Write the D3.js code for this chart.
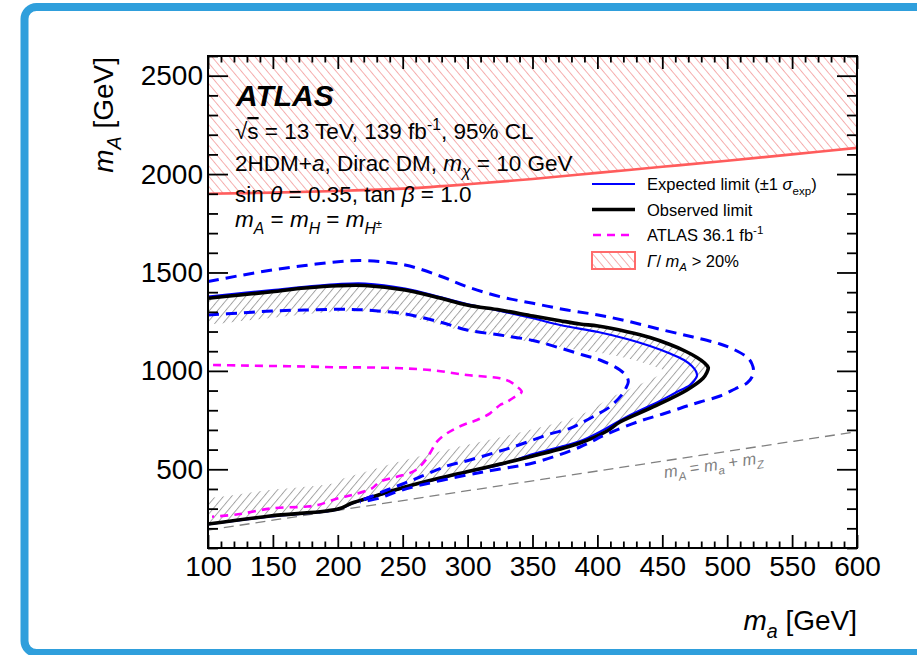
<!DOCTYPE html>
<html>
<head>
<meta charset="utf-8">
<script src="https://cdn.jsdelivr.net/npm/d3@7"></script>
<style>
  html, body { margin: 0; padding: 0; background: #ffffff; }
  svg { display: block; font-family: "Liberation Sans", Arial, Helvetica, sans-serif; }
</style>
</head>
<body>
<svg id="chart" width="917" height="655"></svg>
<script>
// ---- axis tick values ----
const xMajorTicks = [100, 150, 200, 250, 300, 350, 400, 450, 500, 550, 600];
const yMajorTicks = [500, 1000, 1500, 2000, 2500];

// ---- Γ/m_A = 20% boundary: [m_a, m_A] ----
const widthBoundary = [
  [100, 1900], [150, 1906], [200, 1914], [250, 1926], [300, 1948], [350, 1975],
  [400, 2006], [450, 2037], [500, 2068], [550, 2100], [600, 2133]
];

// ---- observed limit contour: [m_a, m_A] ----
const observed = [
  [100, 1369], [124.7, 1385.6], [149.3, 1402.3], [174.7, 1421], [200.2, 1432.8],
  [221, 1433.8], [251.8, 1411], [278.7, 1370], [299.5, 1334.8], [325, 1309.3],
  [350.4, 1278.9], [371.2, 1254.9], [386.6, 1238.2], [400.5, 1228], [422.8, 1199],
  [440.5, 1169.6], [455.9, 1134], [467.5, 1101], [476.7, 1068], [482.1, 1042.6],
  [485.4, 1017], [484.1, 989], [481.4, 962], [469, 903], [442.8, 816.5],
  [417.4, 740], [407.4, 694.5], [386.6, 633.5], [350.4, 567.5], [325, 526.8],
  [299.5, 487.7], [278.7, 455.7], [251.8, 410], [226.3, 359], [211, 328.7],
  [200.2, 298], [147.8, 262.6], [100, 222]
];

// ---- expected limit contour ----
const expected = [
  [100, 1378], [149.3, 1411], [200.2, 1441], [221, 1444], [251.8, 1418.6],
  [278.7, 1375.4], [299.5, 1339.8], [325, 1304.3], [350.4, 1267.2], [371.2, 1233.1],
  [400.5, 1197.6], [422.8, 1162], [440.5, 1126.5], [455.9, 1088.3], [466.7, 1055.3],
  [472.8, 1024.8], [476, 996.9], [476.7, 974], [474.4, 948.6], [471.3, 928.2],
  [459.8, 887.6], [448.2, 847], [422.8, 767.2], [407.4, 709.8], [388.9, 648.8],
  [371.2, 613.2], [350.4, 577.6], [325, 521.7], [299.5, 486], [278.7, 453],
  [251.8, 408], [226.3, 357], [211, 326], [200.2, 296], [147.8, 260], [100, 220]
];

// ---- expected +1 sigma contour ----
const expectedPlus = [
  [100, 1454], [124.7, 1484.6], [149.3, 1512.6], [174.7, 1535.5], [200.2, 1554.8],
  [221, 1559.9], [251.8, 1538], [278.7, 1482], [299.5, 1427.7], [325, 1377],
  [350.4, 1343.4], [376.6, 1309.3], [400.5, 1284], [422.8, 1253.5], [450.5, 1207.7],
  [473.7, 1172], [494.5, 1136.6], [506, 1106], [516, 1065.5], [519.1, 1035],
  [520.3, 1004.5], [519.1, 968.9], [515.3, 938.4], [506, 908], [494.5, 872.4],
  [479, 841.9], [469, 821.5], [450.5, 780.9], [432.8, 745.3], [407.4, 679.3],
  [386.6, 613.2], [350.4, 532], [325, 501.4], [299.5, 470.9], [257.9, 410],
  [242.5, 379.5], [232.5, 354], [217.1, 333.7]
];

// ---- expected -1 sigma contour ----
const expectedMinus = [
  [100, 1284], [124.7, 1294.1], [149.3, 1304.3], [174.7, 1309.3], [200.2, 1312.9],
  [221, 1309.3], [251.8, 1289], [278.7, 1248.4], [299.5, 1207.7], [325, 1182.3],
  [350.4, 1154.4], [371.2, 1116.3], [388.9, 1080.7], [402, 1055.3], [417.4, 1004.5],
  [422.8, 969], [423.8, 943.5], [422, 913], [419.7, 886], [409.7, 818],
  [396.6, 767.2], [388.9, 740.2], [378.9, 708.2], [363.5, 679.3], [350.4, 648.8],
  [335, 613.2], [325, 592.9], [301.8, 547.2], [284.1, 516.7], [263.3, 460.8],
  [247.9, 420.1], [237.9, 394.7], [224.8, 359.1], [217.1, 338.8]
];

// ---- ATLAS 36.1 fb-1 observed contour ----
const atlas36 = [
  [103.9, 1029.9], [124.7, 1027.3], [149.3, 1024.8], [174.7, 1022.3], [199.4, 1018.2],
  [224.8, 1017.2], [249.5, 1013.1], [274.9, 1001.9], [299.5, 979], [317.3, 968.9],
  [325, 962.3], [332.7, 945], [337.3, 923.2], [341.7, 894.2], [335, 862.2],
  [328.8, 836.8], [325, 826.6], [317.3, 784.5], [307.2, 750.4], [296.5, 725],
  [284.1, 682.8], [276.4, 640.1], [271, 581.2], [265.6, 530.4], [257.9, 487.7],
  [245.6, 462.3], [232.5, 436.9], [226.3, 403.4], [210.9, 369.3], [200.2, 352.5],
  [184.7, 318.5], [174.7, 309.9], [149.3, 301.7], [123.1, 271.2], [103.1, 259]
];

// ---- kinematic line m_A = m_a + m_Z ----
const mZ = 91.2;
const kinematicLine = [[100, 100 + mZ], [600, 600 + mZ]];

// ---- layout ----
const svg = d3.select("#chart");
const plotLeft = 208, plotRight = 857, plotTop = 56, plotBottom = 548;
const x = d3.scaleLinear().domain([100, 600]).range([plotLeft, plotRight]);
const y = d3.scaleLinear().domain([100, 2600]).range([plotBottom, plotTop]);

const defs = svg.append("defs");
defs.append("clipPath").attr("id", "plotClip")
  .append("rect").attr("x", plotLeft).attr("y", plotTop)
  .attr("width", plotRight - plotLeft).attr("height", plotBottom - plotTop);

// hatch patterns
const gray = defs.append("pattern").attr("id", "grayHatch")
  .attr("patternUnits", "userSpaceOnUse").attr("width", 6.2).attr("height", 10)
  .attr("patternTransform", "rotate(40)");
gray.append("line").attr("x1", 0.5).attr("y1", 0).attr("x2", 0.5).attr("y2", 10)
  .attr("stroke", "#8a8a8a").attr("stroke-width", 0.8);

const red = defs.append("pattern").attr("id", "redHatch")
  .attr("patternUnits", "userSpaceOnUse").attr("width", 6.6).attr("height", 10)
  .attr("patternTransform", "rotate(-40)");
red.append("line").attr("x1", 0.5).attr("y1", 0).attr("x2", 0.5).attr("y2", 10)
  .attr("stroke", "#f4a3a3").attr("stroke-width", 0.9);

// outer frame
svg.append("rect").attr("x", 24.5).attr("y", 7).attr("width", 1000).attr("height", 646)
  .attr("rx", 12).attr("fill", "none").attr("stroke", "#2f9fdc").attr("stroke-width", 8);

const line = d3.line().x(d => x(d[0])).y(d => y(d[1])).curve(d3.curveCatmullRom.alpha(0.5));
const straight = d3.line().x(d => x(d[0])).y(d => y(d[1]));

const plot = svg.append("g").attr("clip-path", "url(#plotClip)");

// Γ/m_A > 20% region
plot.append("path")
  .attr("d", line(widthBoundary) + `L${x(600)},${y(2600)}L${x(100)},${y(2600)}Z`)
  .attr("fill", "url(#redHatch)").attr("stroke", "none");

// hatched band on the excluded side of the observed contour
const obsClosed = [[-100, observed[0][1]], ...observed, [-100, observed[observed.length - 1][1]]];
defs.append("clipPath").attr("id", "obsClip")
  .append("path").attr("d", line(obsClosed) + "Z");
plot.append("path")
  .attr("d", line(obsClosed))
  .attr("clip-path", "url(#obsClip)")
  .attr("fill", "none").attr("stroke", "url(#grayHatch)").attr("stroke-width", 52)
  .attr("stroke-linejoin", "round");

// kinematic line
plot.append("path").attr("d", straight(kinematicLine))
  .attr("fill", "none").attr("stroke", "#808080").attr("stroke-width", 1.3)
  .attr("stroke-dasharray", "10,6");

// Γ boundary line
plot.append("path").attr("d", line(widthBoundary))
  .attr("fill", "none").attr("stroke", "#ff5c5c").attr("stroke-width", 2.6);

// ATLAS 36.1 fb-1
plot.append("path").attr("d", line(atlas36))
  .attr("fill", "none").attr("stroke", "#ff00ff").attr("stroke-width", 2.6)
  .attr("stroke-dasharray", "8,6");

// expected
plot.append("path").attr("d", line(expected))
  .attr("fill", "none").attr("stroke", "#0000ff").attr("stroke-width", 2.2);

// observed
plot.append("path").attr("d", line(observed))
  .attr("fill", "none").attr("stroke", "#000000").attr("stroke-width", 3.6);

// ±1 sigma
[expectedPlus, expectedMinus].forEach(band => {
  plot.append("path").attr("d", line(band))
    .attr("fill", "none").attr("stroke", "#0000ff").attr("stroke-width", 3)
    .attr("stroke-dasharray", "11,7");
});

// ---- axes ----
const xMinor = d3.range(100, 601, 10).filter(v => v % 50 !== 0);
const yMinor = d3.range(100, 2601, 100).filter(v => v % 500 !== 0);

function styleAxis(g) {
  g.select(".domain").remove();
  g.selectAll("line").attr("stroke", "#000").attr("stroke-width", 1.8);
  g.selectAll("text").attr("font-size", 28).attr("fill", "#000")
    .attr("font-family", "'Liberation Sans', Arial, sans-serif");
}

svg.append("g").attr("transform", `translate(0,${plotBottom})`)
  .call(d3.axisBottom(x).tickValues(xMajorTicks).tickSize(-13).tickPadding(8).tickFormat(d3.format("d")))
  .call(styleAxis);
svg.append("g").attr("transform", `translate(0,${plotBottom})`)
  .call(d3.axisBottom(x).tickValues(xMinor).tickSize(-6.5).tickFormat(""))
  .call(styleAxis);
svg.append("g").attr("transform", `translate(0,${plotTop})`)
  .call(d3.axisTop(x).tickValues(xMajorTicks).tickSize(-13).tickFormat(""))
  .call(styleAxis);
svg.append("g").attr("transform", `translate(0,${plotTop})`)
  .call(d3.axisTop(x).tickValues(xMinor).tickSize(-6.5).tickFormat(""))
  .call(styleAxis);

svg.append("g").attr("transform", `translate(${plotLeft},0)`)
  .call(d3.axisLeft(y).tickValues(yMajorTicks).tickSize(-20).tickPadding(5).tickFormat(d3.format("d")))
  .call(styleAxis);
svg.append("g").attr("transform", `translate(${plotLeft},0)`)
  .call(d3.axisLeft(y).tickValues(yMinor).tickSize(-10).tickFormat(""))
  .call(styleAxis);
svg.append("g").attr("transform", `translate(${plotRight},0)`)
  .call(d3.axisRight(y).tickValues(yMajorTicks).tickSize(-20).tickFormat(""))
  .call(styleAxis);
svg.append("g").attr("transform", `translate(${plotRight},0)`)
  .call(d3.axisRight(y).tickValues(yMinor).tickSize(-10).tickFormat(""))
  .call(styleAxis);

svg.append("rect").attr("x", plotLeft).attr("y", plotTop)
  .attr("width", plotRight - plotLeft).attr("height", plotBottom - plotTop)
  .attr("fill", "none").attr("stroke", "#000").attr("stroke-width", 2);

// ---- rich text helper: parts with optional italic / sub / sup ----
function rich(sel, parts, fs) {
  let shift = 0;
  parts.forEach(p => {
    const size = p.size || (p.sub || p.sup ? 0.7 : 1);
    const off = p.off !== undefined ? p.off : (p.sub ? 0.3 : p.sup ? -0.4 : 0);
    const ts = sel.append("tspan").text(p.t)
      .attr("dy", (off - shift) * fs);
    shift = off;
    if (size !== 1) ts.attr("font-size", size * fs);
    if (p.i) ts.attr("font-style", "italic");
    if (p.dx) ts.attr("dx", p.dx);
    if (p.over) ts.style("text-decoration", "overline");
  });
  return sel;
}

// axis titles
rich(svg.append("text").attr("x", plotRight).attr("y", 630).attr("text-anchor", "end")
  .attr("font-size", 28),
  [{ t: "m", i: true }, { t: "a", i: true, sub: true }, { t: " [GeV]" }], 28);

rich(svg.append("text").attr("transform", `translate(113,${plotTop + 1}) rotate(-90)`)
  .attr("text-anchor", "end").attr("font-size", 28),
  [{ t: "m", i: true }, { t: "A", i: true, sub: true }, { t: " [GeV]" }], 28);

// ATLAS label and info text
svg.append("text").attr("x", 236).attr("y", 105.5).attr("font-size", 30)
  .attr("font-weight", "bold").attr("font-style", "italic").text("ATLAS");

const infoFs = 22.5;
const info = svg.append("g").attr("font-size", infoFs);
rich(info.append("text").attr("x", 235).attr("y", 139),
  [{ t: "√" }, { t: "s", over: true }, { t: " = 13 TeV, 139 fb" }, { t: "-1", sup: true }, { t: ", 95% CL" }], infoFs);
rich(info.append("text").attr("x", 235).attr("y", 170.5),
  [{ t: "2HDM+" }, { t: "a", i: true }, { t: ", Dirac DM, " }, { t: "m", i: true },
   { t: "χ", i: true, sub: true }, { t: " = 10 GeV" }], infoFs);
rich(info.append("text").attr("x", 235).attr("y", 202),
  [{ t: "sin " }, { t: "θ", i: true }, { t: " = 0.35, tan " }, { t: "β", i: true }, { t: " = 1.0" }], infoFs);
rich(info.append("text").attr("x", 235).attr("y", 227),
  [{ t: "m", i: true }, { t: "A", i: true, sub: true }, { t: " = " }, { t: "m", i: true },
   { t: "H", i: true, sub: true }, { t: " = " }, { t: "m", i: true }, { t: "H", i: true, sub: true },
   { t: "±", size: 0.5, off: 0.05 }], infoFs);

// kinematic line label
const lblX = 450, lblY = lblX + mZ;
const angle = Math.atan2(y(600 + mZ) - y(100 + mZ), x(600) - x(100)) * 180 / Math.PI;
rich(svg.append("text")
  .attr("transform", `translate(${x(lblX)},${y(lblY)}) rotate(${angle}) translate(0,17)`)
  .attr("font-size", 16.5).attr("fill", "#808080"),
  [{ t: "m", i: true }, { t: "A", i: true, sub: true }, { t: " = " }, { t: "m", i: true },
   { t: "a", i: true, sub: true }, { t: " + " }, { t: "m", i: true }, { t: "Z", i: true, sub: true }], 16.5);

// ---- legend ----
const legFs = 16.5;
const leg = svg.append("g").attr("font-size", legFs);
const lx0 = 592, lx1 = 635, tx = 647;
const legRows = [184, 209.5, 235, 260.5];
leg.append("line").attr("x1", lx0).attr("x2", lx1).attr("y1", legRows[0]).attr("y2", legRows[0])
  .attr("stroke", "#0000ff").attr("stroke-width", 2.2);
leg.append("line").attr("x1", lx0).attr("x2", lx1).attr("y1", legRows[1]).attr("y2", legRows[1])
  .attr("stroke", "#000").attr("stroke-width", 3.6);
leg.append("line").attr("x1", lx0 + 1).attr("x2", lx1).attr("y1", legRows[2]).attr("y2", legRows[2])
  .attr("stroke", "#ff00ff").attr("stroke-width", 2.6).attr("stroke-dasharray", "8,6");
leg.append("rect").attr("x", lx0).attr("y", legRows[3] - 8.5).attr("width", lx1 - lx0).attr("height", 17)
  .attr("fill", "url(#redHatch)").attr("stroke", "#ff6b6b").attr("stroke-width", 2);

rich(leg.append("text").attr("x", tx).attr("y", legRows[0] + 6),
  [{ t: "Expected limit (±1 " }, { t: "σ", i: true }, { t: "exp", sub: true }, { t: ")" }], legFs);
leg.append("text").attr("x", tx).attr("y", legRows[1] + 6).text("Observed limit");
rich(leg.append("text").attr("x", tx).attr("y", legRows[2] + 6),
  [{ t: "ATLAS 36.1 fb" }, { t: "-1", sup: true }], legFs);
rich(leg.append("text").attr("x", tx).attr("y", legRows[3] + 6),
  [{ t: "Γ", i: true }, { t: "/ " }, { t: "m", i: true }, { t: "A", i: true, sub: true }, { t: " > 20%" }], legFs);
</script>
</body>
</html>
